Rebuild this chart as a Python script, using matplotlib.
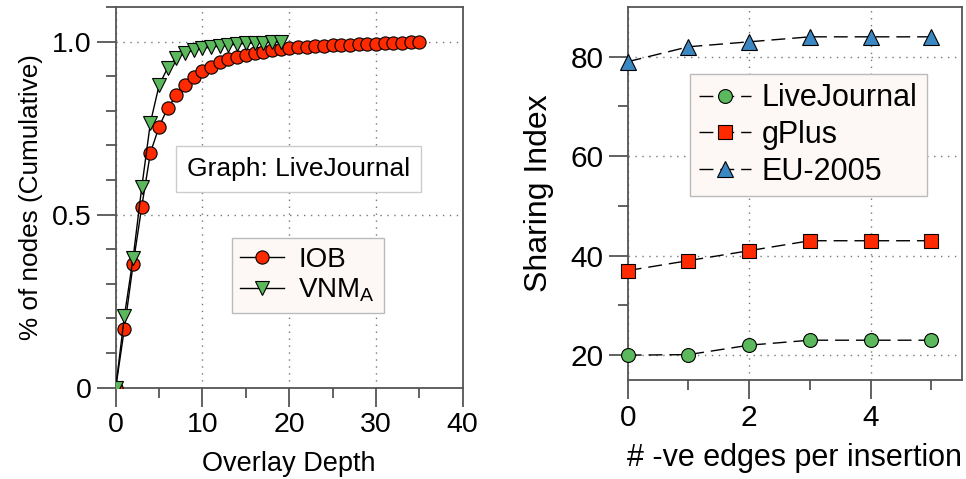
import matplotlib
matplotlib.use("Agg")
import matplotlib.pyplot as plt
from matplotlib.ticker import MultipleLocator, FixedLocator

plt.rcParams['font.family'] = ['Liberation Sans', 'DejaVu Sans']
plt.rcParams['mathtext.fontset'] = 'custom'
plt.rcParams['mathtext.rm'] = 'Liberation Sans'
plt.rcParams['mathtext.it'] = 'Liberation Sans'

# ---- Left panel data ----
iob_x = list(range(0, 36))
iob_y = [0.0, 0.171, 0.356, 0.523, 0.679, 0.754, 0.809, 0.845, 0.874, 0.897,
         0.915, 0.928, 0.942, 0.949, 0.956, 0.962, 0.968, 0.971, 0.976, 0.979,
         0.981, 0.983, 0.985, 0.986, 0.988, 0.989, 0.990, 0.991, 0.992, 0.993,
         0.994, 0.995, 0.996, 0.997, 0.998, 1.0]
vnm_x = list(range(0, 20))
vnm_y = [0.0, 0.207, 0.374, 0.579, 0.766, 0.874, 0.925, 0.954, 0.966, 0.976,
         0.981, 0.984, 0.987, 0.990, 0.993, 0.995, 0.996, 0.997, 0.998, 1.0]

# ---- Right panel data ----
neg_edges = [0, 1, 2, 3, 4, 5]
livejournal = [20, 20.1, 22, 23, 23, 23]
gplus = [37, 39, 41, 43, 43, 43]
eu2005 = [79, 82, 83, 84, 84, 84]

left_xticks = [0, 10, 20, 30, 40]
left_yticks = [0, 0.5, 1.0]
left_yticklabels = ['0', '0.5', '1.0']
right_xticks = [0, 2, 4]
right_yticks = [20, 40, 60, 80]

RED = '#ff2a00'
GREEN = '#5cb85c'
BLUE = '#3a87c2'
SPINE = '#555555'
LEGBG = '#fdf8f6'

fig = plt.figure(figsize=(9.66, 4.79), dpi=100)
ax1 = fig.add_axes([0.1198, 0.1906, 0.3592, 0.7948])
ax2 = fig.add_axes([0.6498, 0.2067, 0.3458, 0.7787])

def style(ax, labelsize):
    for s in ax.spines.values():
        s.set_color(SPINE)
        s.set_linewidth(1.3)
    ax.tick_params(which='major', direction='out', length=14, width=1.3,
                   color=SPINE, labelsize=labelsize, pad=3.5)
    ax.tick_params(which='minor', direction='out', length=7, width=1.3, color=SPINE)
    ax.grid(True, which='major', linestyle=(0, (1, 4)), color='#777777', linewidth=1)
    ax.set_axisbelow(True)

# Left
ax1.plot(iob_x, iob_y, '-', color='black', lw=1, marker='o', ms=9.5,
         mfc=RED, mec='black', mew=0.8, label='IOB', zorder=3)
ax1.plot(vnm_x, vnm_y, '-', color='black', lw=1, marker='v', ms=10.5,
         mfc=GREEN, mec='black', mew=0.8, label=r'VNM$_\mathregular{A}$', zorder=4)
ax1.set_xlim(0, 40)
ax1.set_ylim(0, 1.1)
ax1.set_xticks(left_xticks)
ax1.xaxis.set_minor_locator(MultipleLocator(5))
ax1.set_yticks(left_yticks)
ax1.set_yticklabels(left_yticklabels)
ax1.yaxis.set_minor_locator(MultipleLocator(0.1))
style(ax1, 20.5)
ax1.set_xlabel('Overlay Depth', fontsize=19.5, labelpad=9)
ax1.set_ylabel('% of nodes (Cumulative)', fontsize=18.8, labelpad=6)
leg1 = ax1.legend(loc='upper left', bbox_to_anchor=(0.334, 0.392), fontsize=20,
                  frameon=True, fancybox=False, framealpha=1, edgecolor='#bbbbbb',
                  facecolor=LEGBG, handlelength=1.6, handletextpad=0.5,
                  borderpad=0.3, labelspacing=0.15, borderaxespad=0)
leg1.get_frame().set_linewidth(1)
ax1.text(0.527, 0.574, 'Graph: LiveJournal', transform=ax1.transAxes, fontsize=19,
         ha='center', va='center',
         bbox=dict(boxstyle='square,pad=0.42', facecolor='white', edgecolor='#cccccc', lw=1))

# Right
dash = (0, (10, 5))
ax2.plot(neg_edges, livejournal, color='black', lw=1, linestyle=dash, marker='o', ms=10,
         mfc=GREEN, mec='black', mew=0.8, label='LiveJournal', clip_on=False, zorder=3)
ax2.plot(neg_edges, gplus, color='black', lw=1, linestyle=dash, marker='s', ms=10,
         mfc=RED, mec='black', mew=0.8, label='gPlus', clip_on=False, zorder=3)
ax2.plot(neg_edges, eu2005, color='black', lw=1, linestyle=dash, marker='^', ms=11,
         mfc=BLUE, mec='black', mew=0.8, label='EU-2005', clip_on=False, zorder=3)
ax2.set_xlim(0, 5.5)
ax2.set_ylim(15, 90)
ax2.set_xticks(right_xticks)
ax2.xaxis.set_minor_locator(FixedLocator([1, 3, 5]))
ax2.set_yticks(right_yticks)
ax2.yaxis.set_minor_locator(FixedLocator([30, 50, 70]))
style(ax2, 21.5)
ax2.set_xlabel('# -ve edges per insertion', fontsize=22, labelpad=8)
ax2.set_ylabel('Sharing Index', fontsize=23, labelpad=12)
leg2 = ax2.legend(loc='upper left', bbox_to_anchor=(0.186, 0.820), fontsize=22,
                  frameon=True, fancybox=False, framealpha=1, edgecolor='#bbbbbb',
                  facecolor=LEGBG, handlelength=1.7, handletextpad=0.35,
                  borderpad=0.3, labelspacing=0.22, borderaxespad=0)
leg2.get_frame().set_linewidth(1)

fig.savefig('out.png', dpi=100)
